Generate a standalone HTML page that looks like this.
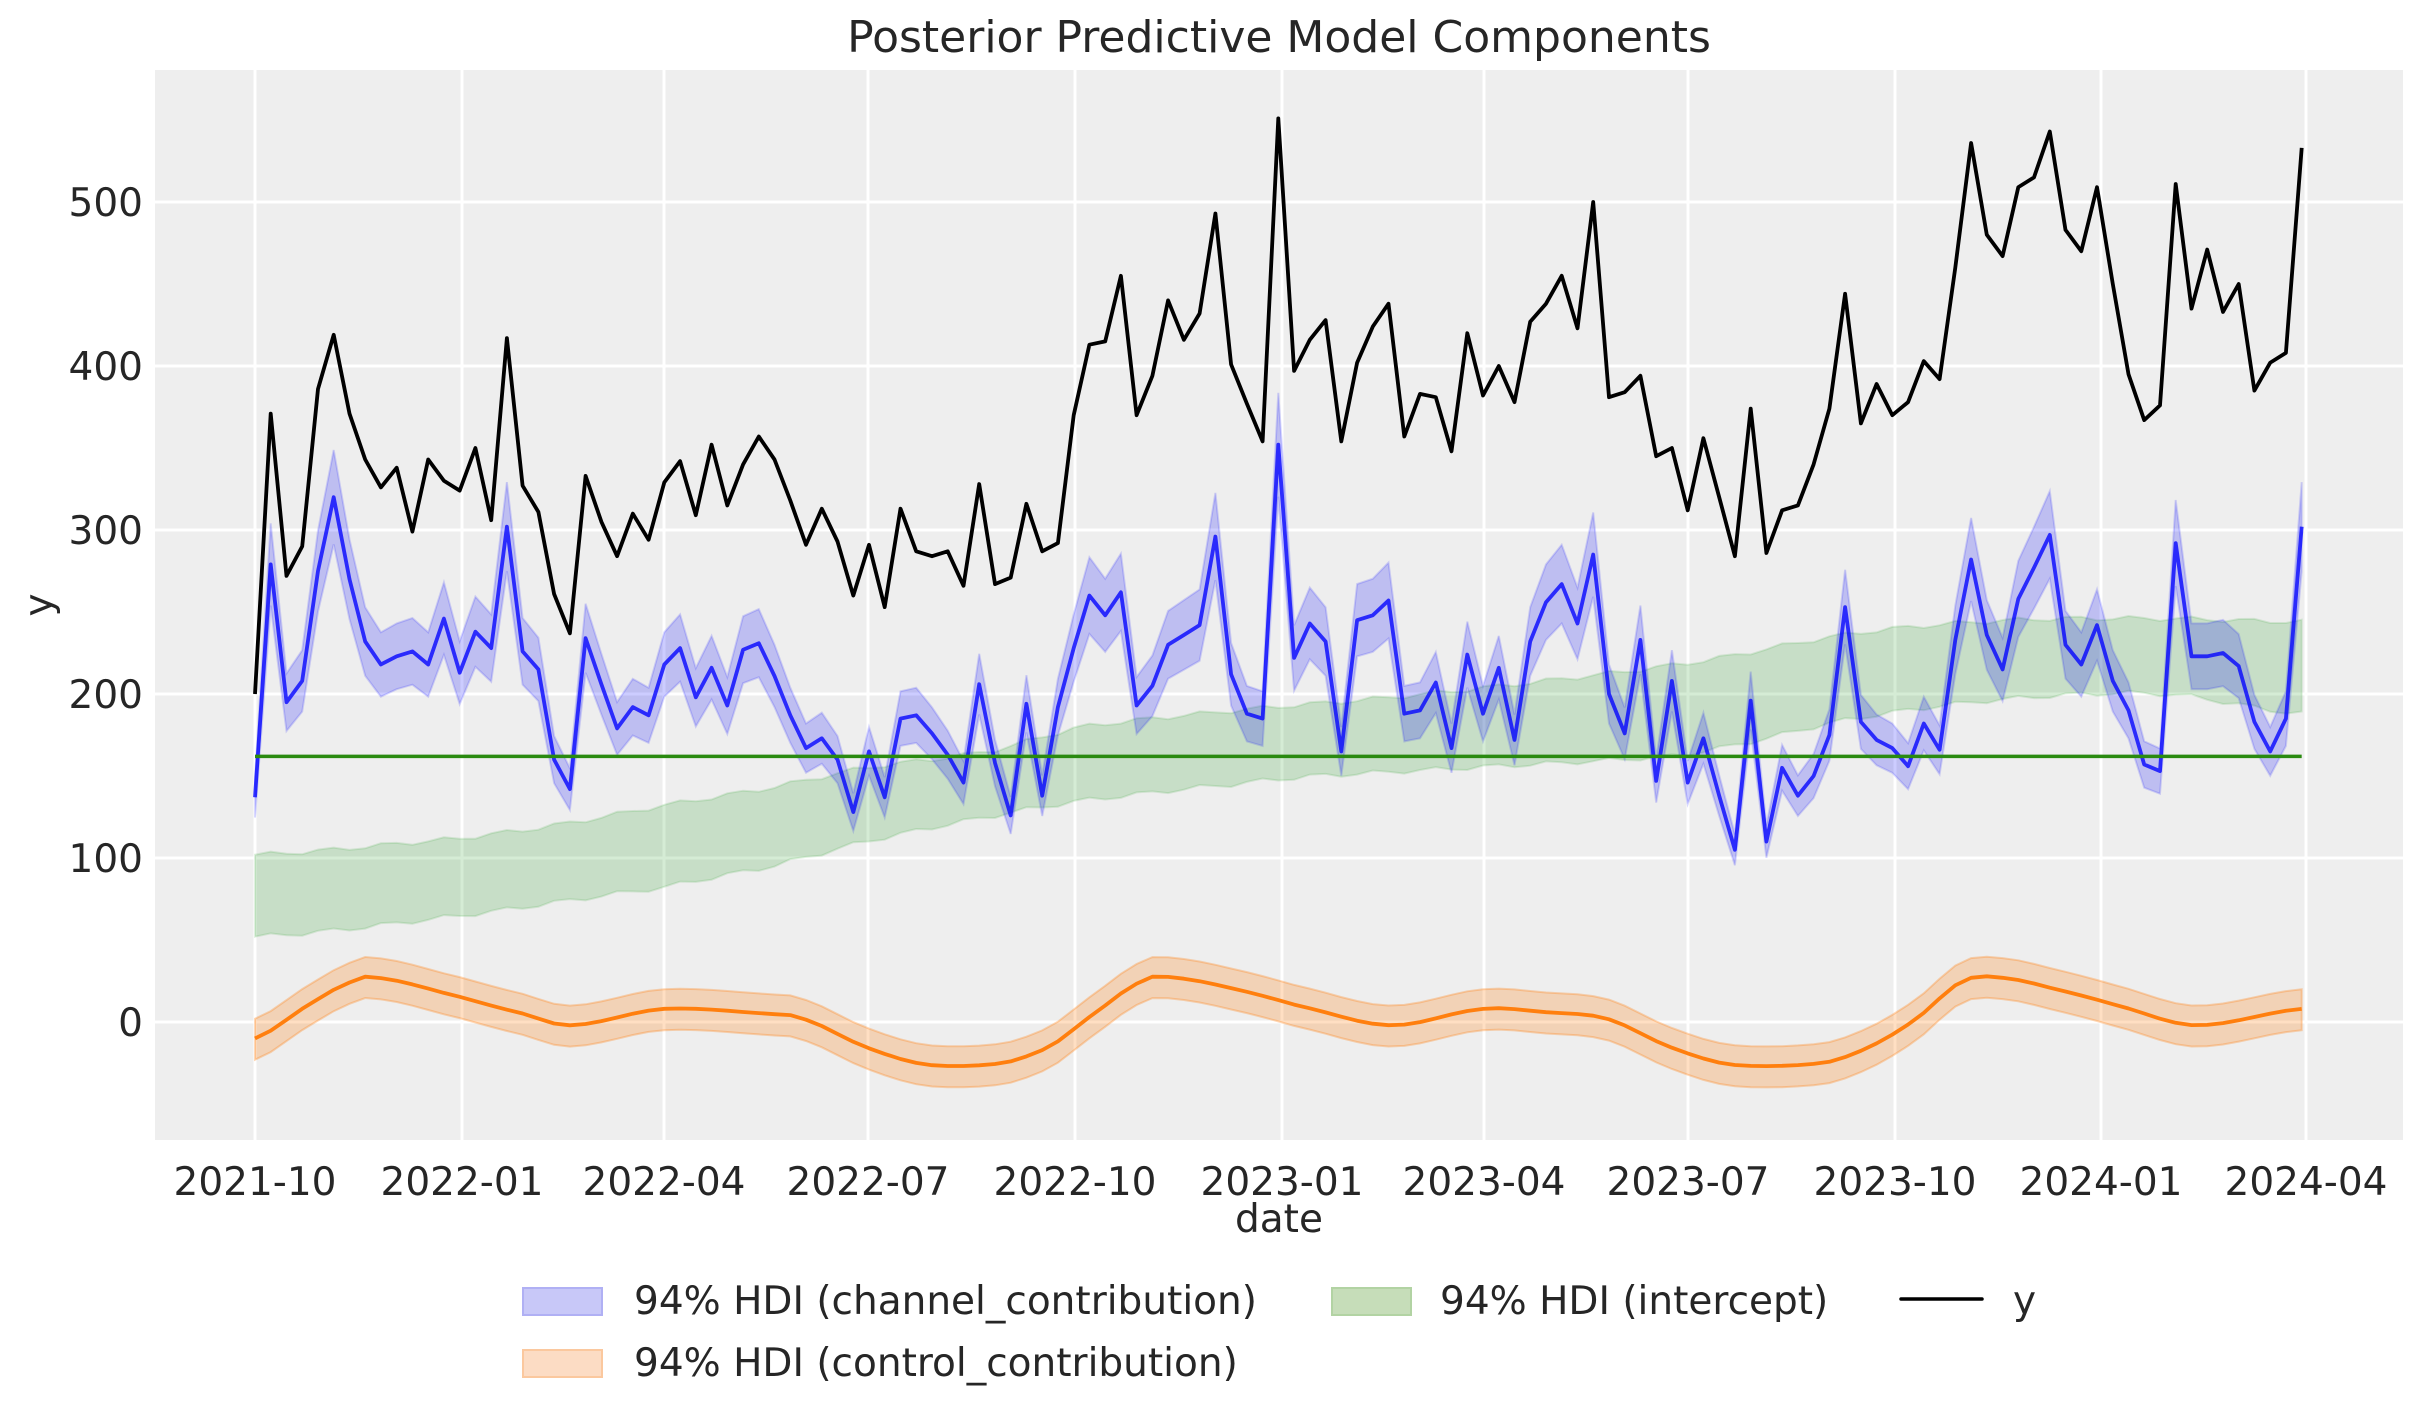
<!DOCTYPE html>
<html><head><meta charset="utf-8"><style>
html,body{margin:0;padding:0;background:#fff;}
svg{display:block;font-family:"DejaVu Sans","Liberation Sans",sans-serif;}
</style></head><body>
<svg id="s" width="2423" height="1423" viewBox="0 0 2423 1423" xmlns="http://www.w3.org/2000/svg">
<rect x="155" y="70" width="2248" height="1070" fill="#eeeeee"/>
<g id="grid" stroke="#ffffff" stroke-width="3"></g>
<g id="data"></g>
<g fill="#262626" font-size="39">
<text x="1279" y="52" font-size="44" text-anchor="middle">Posterior Predictive Model Components</text>
<text x="1279" y="1232" font-size="39" text-anchor="middle">date</text>
<text transform="translate(52,605) rotate(-90)" font-size="39" text-anchor="middle">y</text>
</g>
<g id="ticks" fill="#262626" font-size="39"></g>
<g id="legend" fill="#262626" font-size="39">
<rect x="523" y="1288" width="79" height="27" fill="#c8c8f8" stroke="#b0b0f4" stroke-width="2"/>
<text x="634" y="1314">94% HDI (channel_contribution)</text>
<rect x="523" y="1350" width="79" height="27" fill="#fcdcc4" stroke="#fbc89e" stroke-width="2"/>
<text x="634" y="1376">94% HDI (control_contribution)</text>
<rect x="1332" y="1288" width="79" height="27" fill="#c6ddb9" stroke="#b2d3a3" stroke-width="2"/>
<text x="1440" y="1314">94% HDI (intercept)</text>
<line x1="1901" y1="1299" x2="1982" y2="1299" stroke="#000" stroke-width="3.5" stroke-linecap="round"/>
<text x="2013" y="1314">y</text>
</g>
</svg>
<script>
(function(){
var NS="http://www.w3.org/2000/svg";
function el(t,a,p){var e=document.createElementNS(NS,t);for(var k in a)e.setAttribute(k,a[k]);(p||document.getElementById('data')).appendChild(e);return e;}
function Y(v){return 1022-v*1.64;}
function XD(xd){return 255+(xd-166)*1.547;}
var grid=document.getElementById('grid'),ticks=document.getElementById('ticks');
var xt=[["2021-10",255],["2022-01",462],["2022-04",664],["2022-07",868],["2022-10",1075],["2023-01",1282],["2023-04",1484],["2023-07",1688],["2023-10",1895],["2024-01",2101],["2024-04",2306]];
xt.forEach(function(t){el('line',{x1:t[1],x2:t[1],y1:70,y2:1140},grid);var e=el('text',{x:t[1],y:1195,'text-anchor':'middle'},ticks);e.textContent=t[0];});
for(var v=0;v<=500;v+=100){var y=Y(v);el('line',{x1:155,x2:2403,y1:y,y2:y},grid);var e=el('text',{x:143,y:y+14,'text-anchor':'end'},ticks);e.textContent=v;}
function interp(pts,x){
 for(var i=0;i<pts.length-1;i++){if(x<=pts[i+1][0]){var p0=pts[Math.max(0,i-1)],p1=pts[i],p2=pts[i+1],p3=pts[Math.min(pts.length-1,i+2)];var t=(x-p1[0])/(p2[0]-p1[0]);var t2=t*t,t3=t2*t;
 return 0.5*((2*p1[1])+(-p0[1]+p2[1])*t+(2*p0[1]-5*p1[1]+4*p2[1]-p3[1])*t2+(-p0[1]+3*p1[1]-3*p2[1]+p3[1])*t3);}}
 return pts[pts.length-1][1];}
var x0=166,x1=1489,N=131;
function xs(i,n){return XD(x0+(x1-x0)*i/(n-1));}
var gl=[[166,52],[300,65],[430,82],[500,95],[560,110],[640,125],[700,135],[800,145],[850,150],[950,155],[1050,160],[1100,165],[1200,185],[1300,197],[1400,200],[1489,188]];
var gu=[[166,102],[300,112],[360,120],[430,132],[500,143],[560,155],[640,165],[700,180],[800,190],[900,198],[1000,208],[1100,220],[1200,237],[1300,245],[1400,246],[1489,244]];
function band(lo,hi,fill,stroke){var a=[],b=[];for(var i=0;i<lo.length;i++){a.push(lo[i][0].toFixed(1)+','+Y(lo[i][1]).toFixed(1));}for(var i=hi.length-1;i>=0;i--){b.push(hi[i][0].toFixed(1)+','+Y(hi[i][1]).toFixed(1));}
 el('polygon',{points:a.concat(b).join(' '),fill:fill,stroke:stroke,'stroke-width':2});}
var L=[],U=[];for(var i=0;i<N;i++){var xd=x0+(x1-x0)*i/(N-1);var j=Math.sin(i*1.7)*1.5;L.push([XD(xd),interp(gl,xd)+j]);U.push([XD(xd),interp(gu,xd)+j]);}
band(L,U,"rgba(44,160,44,0.2)","rgba(44,160,44,0.15)");
var om=[[166,-10],[200,10],[230,25],[245,27],[300,15],[340,5],[370,-2],[430,8],[500,5],[520,2],[560,-15],[600,-26],[650,-25],[680,-15],[700,0],[740,25],[760,27],[800,20],[840,10],[900,-2],[960,8],[1000,6],[1040,2],[1080,-15],[1120,-26],[1180,-25],[1210,-15],[1240,2],[1270,25],[1295,27],[1330,20],[1370,10],[1420,-2],[1489,8]];
var OL=[],OU=[],OM=[];for(var i=0;i<N;i++){var xd=x0+(x1-x0)*i/(N-1);var m=interp(om,xd);OM.push([XD(xd),m]);OL.push([XD(xd),m-13]);OU.push([XD(xd),m+12]);}
band(OL,OU,"rgba(255,127,14,0.25)","rgba(255,127,14,0.3)");
var bm=[137,279,195,208,275,320,270,232,218,223,226,218,246,213,238,228,302,226,215,160,142,234,206,179,192,187,218,228,198,216,193,227,231,211,187,167,173,160,128,165,137,185,187,176,163,146,206,158,126,194,138,192,228,260,248,262,193,205,230,236,242,296,212,188,185,352,222,243,232,165,245,248,257,188,190,207,167,224,188,216,172,232,256,267,243,285,200,176,233,147,208,146,173,138,105,196,110,155,138,150,175,253,183,172,167,156,182,166,233,282,236,215,258,277,297,230,218,242,208,190,157,153,292,223,223,225,217,183,165,185,302];
var n=bm.length,BL=[],BU=[],BM=[];for(var i=0;i<n;i++){var x=xs(i,n);BM.push([x,bm[i]]);BL.push([x,bm[i]*0.91]);BU.push([x,bm[i]*1.09]);}
band(BL,BU,"rgba(0,0,255,0.2)","rgba(0,0,255,0.15)");
function line(P,c,w){el('polyline',{points:P.map(function(p){return p[0].toFixed(1)+','+Y(p[1]).toFixed(1)}).join(' '),fill:'none',stroke:c,'stroke-width':w,'stroke-linejoin':'round'});}
line(BM,"rgba(0,0,255,0.78)",3.8);
line(OM,"#ff7f0e",3.8);
el('line',{x1:XD(166),x2:XD(1489),y1:Y(162),y2:Y(162),stroke:"#2a8a10",'stroke-width':3.5});
var yk=[200,371,272,290,386,419,371,343,326,338,299,343,330,324,350,306,417,327,311,261,237,333,305,284,310,294,329,342,309,352,315,340,357,343,318,291,313,293,260,291,253,313,287,284,287,266,328,267,271,316,287,292,370,413,415,455,370,394,440,416,432,493,401,377,354,551,397,416,428,354,402,424,438,357,383,381,348,420,382,400,378,427,438,455,423,500,381,384,394,345,350,312,356,320,284,374,286,312,315,340,374,444,365,389,370,378,403,392,460,536,480,467,509,515,543,483,470,509,450,395,367,376,511,435,471,433,450,385,402,408,533];
var K=[];for(var i=0;i<yk.length;i++)K.push([xs(i,yk.length),yk[i]]);
line(K,"#000",3.8);
})();
</script>
</body></html>
